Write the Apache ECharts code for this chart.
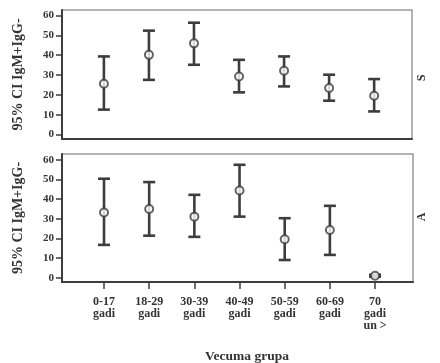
<!DOCTYPE html>
<html>
<head>
<meta charset="utf-8">
<script src="https://cdn.jsdelivr.net/npm/echarts@6/dist/echarts.min.js"></script>
<style>
  html, body { margin: 0; padding: 0; background: #fff; }
  #chart { width: 440px; height: 363px; }
</style>
</head>
<body>
<div id="chart"></div>
<script>
// Age groups (x axis)
const categories = ['0-17\ngadi', '18-29\ngadi', '30-39\ngadi', '40-49\ngadi', '50-59\ngadi', '60-69\ngadi', '70\ngadi\nun >'];
const yTicks = [0, 10, 20, 30, 40, 50, 60];

// Panel "S": mean and 95% CI
const meanS = [25.6, 40.2, 46.0, 29.3, 32.2, 23.5, 19.6];
const lowS  = [12.6, 27.6, 35.2, 21.3, 24.3, 17.1, 11.7];
const highS = [39.4, 52.4, 56.4, 37.7, 39.4, 30.2, 28.0];

// Panel "A": mean and 95% CI
const meanA = [33.2, 35.0, 31.1, 44.4, 19.6, 24.3, 1.0];
const lowA  = [16.7, 21.4, 20.8, 31.1, 9.0, 11.6, 0.5];
const highA = [50.4, 48.7, 42.2, 57.5, 30.3, 36.6, 1.5];

const ink = '#3d3d3d';
const serif = '"Liberation Serif", "DejaVu Serif", serif';

function errorBars(low, high) {
  return low.map((v, i) => [i, v, high[i]]);
}
function means(m) {
  return m.map((v, i) => [i, v]);
}

function renderBar(params, api) {
  const x = api.value(0);
  const lo = api.coord([x, api.value(1)]);
  const hi = api.coord([x, api.value(2)]);
  const half = 6;
  const style = { stroke: ink, lineWidth: 2.6 };
  return {
    type: 'group',
    children: [
      { type: 'line', shape: { x1: lo[0], y1: lo[1], x2: hi[0], y2: hi[1] }, style },
      { type: 'line', shape: { x1: hi[0] - half, y1: hi[1], x2: hi[0] + half, y2: hi[1] }, style },
      { type: 'line', shape: { x1: lo[0] - half, y1: lo[1], x2: lo[0] + half, y2: lo[1] }, style }
    ]
  };
}

function xAxisFor(gridIndex, showLabels) {
  return {
    type: 'value',
    gridIndex,
    min: -0.93,
    max: 6.84,
    axisLine: { show: true, onZero: false, lineStyle: { color: ink, width: 2 } },
    axisTick: {
      show: showLabels, customValues: [0, 1, 2, 3, 4, 5, 6], length: 7,
      lineStyle: { color: ink, width: 1.5 }
    },
    axisLabel: {
      show: showLabels,
      customValues: [0, 1, 2, 3, 4, 5, 6],
      formatter: v => categories[Math.round(v)],
      fontFamily: serif, fontWeight: 'bold', fontSize: 12, color: '#333',
      lineHeight: 12, margin: 14, verticalAlign: 'top'
    },
    splitLine: { show: false }
  };
}

function yAxisFor(gridIndex, max) {
  return {
    type: 'value',
    gridIndex,
    min: -2.2,
    max,
    name: '95% CI IgM+IgG-',
    nameLocation: 'middle',
    nameGap: 37,
    nameRotate: 90,
    nameTextStyle: { fontFamily: serif, fontWeight: 'bold', fontSize: 14, color: '#333' },
    axisLine: { show: true, onZero: false, lineStyle: { color: ink, width: 2 } },
    axisTick: { show: true, customValues: yTicks, length: 6, lineStyle: { color: ink, width: 1.5 } },
    axisLabel: {
      customValues: yTicks,
      fontFamily: serif, fontWeight: 'bold', fontSize: 11, color: '#333', margin: 8
    },
    splitLine: { show: false }
  };
}

const chart = echarts.init(document.getElementById('chart'), null, { renderer: 'canvas' });
chart.setOption({
  animation: false,
  backgroundColor: '#fff',
  grid: [
    { left: 62, top: 10, width: 350, height: 129, show: true, borderColor: '#9a9a9a', borderWidth: 1.5 },
    { left: 62, top: 154, width: 351, height: 128, show: true, borderColor: '#9a9a9a', borderWidth: 1.5 }
  ],
  xAxis: [xAxisFor(0, false), xAxisFor(1, true)],
  yAxis: [yAxisFor(0, 62.8), yAxisFor(1, 63)],
  graphic: [
    { type: 'text', x: 416, y: 78, rotation: Math.PI / 2,
      style: { text: 'S', font: 'bold 12px ' + serif, fill: '#333', align: 'center', verticalAlign: 'top' } },
    { type: 'text', x: 416, y: 217, rotation: Math.PI / 2,
      style: { text: 'A', font: 'bold 12px ' + serif, fill: '#333', align: 'center', verticalAlign: 'top' } },
    { type: 'text', x: 247, y: 357,
      style: { text: 'Vecuma grupa', font: 'bold 13.5px ' + serif, fill: '#333', align: 'center', verticalAlign: 'middle' } }
  ],
  series: [
    { type: 'custom', xAxisIndex: 0, yAxisIndex: 0, renderItem: renderBar,
      data: errorBars(lowS, highS), encode: { x: 0, y: [1, 2] } },
    { type: 'scatter', xAxisIndex: 0, yAxisIndex: 0, data: means(meanS), symbol: 'circle', symbolSize: 8,
      itemStyle: { color: '#fff', borderColor: ink, borderWidth: 2 }, z: 3 },
    { type: 'custom', xAxisIndex: 1, yAxisIndex: 1, renderItem: renderBar,
      data: errorBars(lowA, highA), encode: { x: 0, y: [1, 2] } },
    { type: 'scatter', xAxisIndex: 1, yAxisIndex: 1, data: means(meanA), symbol: 'circle', symbolSize: 8,
      itemStyle: { color: '#fff', borderColor: ink, borderWidth: 2 }, z: 3 }
  ]
});
</script>
</body>
</html>
